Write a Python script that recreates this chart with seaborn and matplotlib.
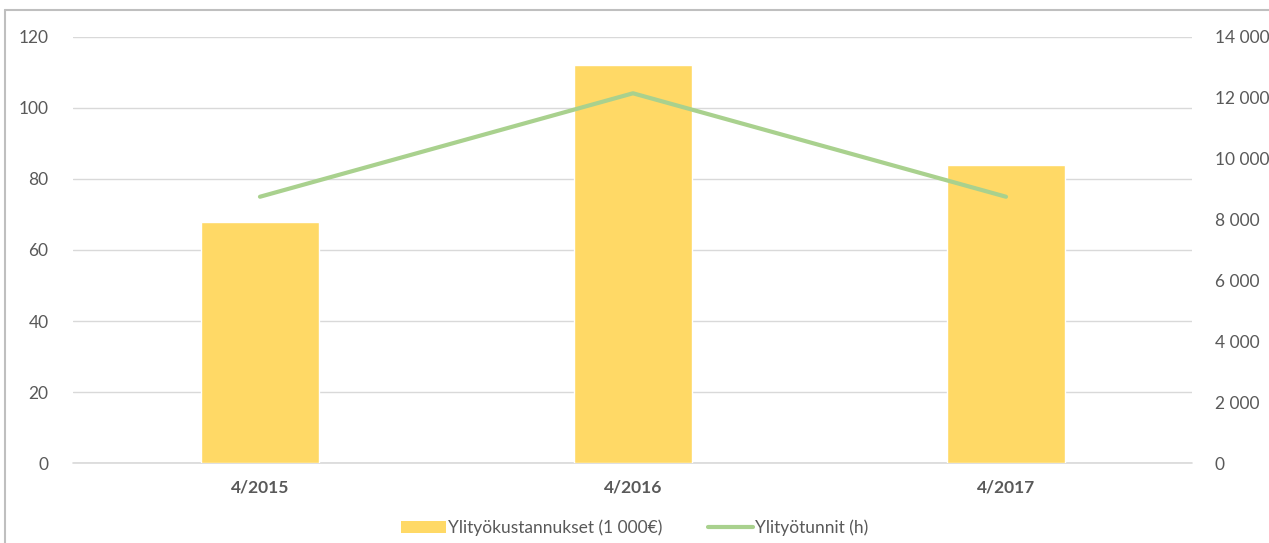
import matplotlib
matplotlib.use("Agg")
import matplotlib.pyplot as plt
from matplotlib.lines import Line2D
from matplotlib.patches import Patch
from matplotlib.ticker import FuncFormatter
import seaborn as sns
import pandas as pd

# data
kaudet = ["4/2015", "4/2016", "4/2017"]
kustannukset = [68, 112, 84]          # 1 000 €
tunnit = [8750, 12150, 8750]          # h

sns.set_theme(style="white")
plt.rcParams["font.family"] = ["Lato", "DejaVu Sans"]

bar_col = "#FFD966"
line_col = "#A9D18E"
txt_col = "#595959"
grid_col = "#D9D9D9"
fs = 12.5

df = pd.DataFrame({"kausi": kaudet, "kust": kustannukset, "tunnit": tunnit})

fig = plt.figure(figsize=(12.69, 5.43), dpi=100)
ax = fig.add_axes([0.0579, 0.1473, 0.8818, 0.7846])

sns.barplot(data=df, x="kausi", y="kust", color=bar_col, width=0.314,
            saturation=1, ax=ax)
ax.set_xlim(-0.5, 2.5)
ax.set_ylim(0, 120)
ax.set_yticks(range(0, 121, 20))
ax.yaxis.grid(True, color=grid_col, linewidth=1)
ax.set_axisbelow(True)
ax.axhline(0, color=grid_col, linewidth=1.2, zorder=0.5, clip_on=False)
for s in ax.spines.values():
    s.set_visible(False)
ax.set_xlabel("")
ax.set_ylabel("")
ax.tick_params(axis="y", colors=txt_col, labelsize=fs, length=0, pad=18)
ax.tick_params(axis="x", colors=txt_col, labelsize=fs, length=0, pad=12)
for t in ax.get_xticklabels():
    t.set_fontweight("bold")

ax2 = ax.twinx()
ax2.plot(range(len(kaudet)), df["tunnit"], color=line_col, linewidth=3,
         solid_capstyle="round")
ax2.set_ylim(0, 14000)
ax2.set_yticks(range(0, 14001, 2000))
ax2.yaxis.set_major_formatter(FuncFormatter(lambda v, p: f"{int(v):,}".replace(",", " ")))
for s in ax2.spines.values():
    s.set_visible(False)
ax2.tick_params(axis="y", colors=txt_col, labelsize=fs, length=0, pad=16)
ax2.set_ylabel("")

handles = [Patch(facecolor=bar_col, edgecolor="none"),
           Line2D([0], [0], color=line_col, linewidth=3)]
fig.legend(handles, ["Ylityökustannukset (1 000€)", "Ylityötunnit (h)"],
           loc="lower center", bbox_to_anchor=(0.5, -0.016), ncol=2, frameon=False,
           fontsize=fs, labelcolor=txt_col, handlelength=2.6, handletextpad=0.1,
           columnspacing=2.6)

# border of the chart box
fig.add_artist(Line2D([0.004, 1.0], [1 - 10 / 543, 1 - 10 / 543], color="#BFBFBF",
                      linewidth=1.5, transform=fig.transFigure))
fig.add_artist(Line2D([0.004, 0.004], [0, 1 - 10 / 543], color="#BFBFBF",
                      linewidth=1.5, transform=fig.transFigure))

fig.savefig("out.png", dpi=100)
